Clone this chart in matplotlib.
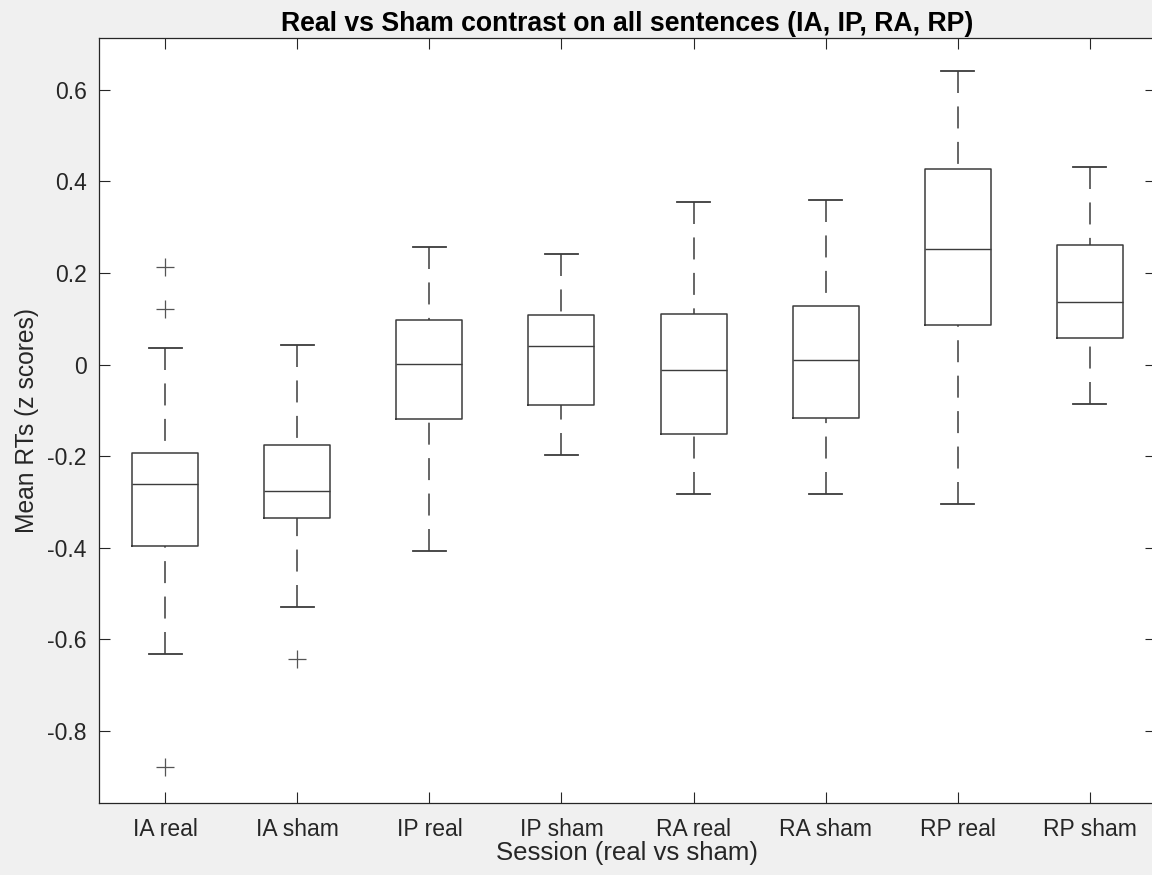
import matplotlib

matplotlib.use("Agg")
import matplotlib.pyplot as plt

plt.rcParams["font.family"] = ["Liberation Sans", "DejaVu Sans"]

labels = ["IA real", "IA sham", "IP real", "IP sham",
          "RA real", "RA sham", "RP real", "RP sham"]
medians = [-0.260, -0.276, 0.002, 0.041, -0.012, 0.010, 0.253, 0.137]
q1 = [-0.395, -0.334, -0.118, -0.088, -0.152, -0.116, 0.087, 0.059]
q3 = [-0.193, -0.175, 0.097, 0.108, 0.111, 0.129, 0.427, 0.261]
whisk_lo = [-0.632, -0.529, -0.406, -0.198, -0.282, -0.282, -0.305, -0.087]
whisk_hi = [0.037, 0.043, 0.257, 0.242, 0.355, 0.360, 0.640, 0.432]
outliers = [[0.212, 0.121, -0.878], [-0.642], [], [], [], [], [], []]

line_col = "#3c3c3c"
axis_col = "#262626"

stats = []
for i, name in enumerate(labels):
    stats.append({
        "label": name,
        "med": medians[i],
        "q1": q1[i],
        "q3": q3[i],
        "whislo": whisk_lo[i],
        "whishi": whisk_hi[i],
        "fliers": outliers[i],
    })

fig = plt.figure(figsize=(11.52, 8.75), dpi=100, facecolor="#f0f0f0")
ax = fig.add_axes([0.0861, 0.0823, 0.9172, 0.8743])
ax.set_facecolor("white")

parts = ax.bxp(
    stats,
    positions=range(1, len(labels) + 1),
    widths=0.5,
    showfliers=True,
    boxprops=dict(color=line_col, linewidth=1.1),
    medianprops=dict(color=line_col, linewidth=1.0),
    whiskerprops=dict(color=line_col, linewidth=1.1, linestyle=(0, (14.4, 8.8))),
    capprops=dict(color=line_col, linewidth=1.3),
    capwidths=0.25,
    flierprops=dict(marker="+", markersize=13, markeredgecolor="#555555",
                    markeredgewidth=0.9, linestyle="none"),
)

# start the dash pattern at the cap end, as MATLAB does
for w in parts["whiskers"]:
    xs, ys = w.get_data()
    w.set_data(list(xs)[::-1], list(ys)[::-1])

ax.set_xlim(0.5, 8.5)
ax.set_ylim(-0.957, 0.713)
ax.set_yticks([-0.8, -0.6, -0.4, -0.2, 0, 0.2, 0.4, 0.6])
ax.set_yticklabels(["-0.8", "-0.6", "-0.4", "-0.2", "0", "0.2", "0.4", "0.6"])
ax.set_xticks(range(1, len(labels) + 1))
ax.set_xticklabels(labels)

ax.tick_params(axis="both", direction="in", length=8, width=0.8,
               color=axis_col, labelcolor=axis_col, labelsize=16.5,
               top=True, right=True)
ax.tick_params(axis="x", pad=11)
ax.tick_params(axis="y", pad=9)
for side in ["left", "bottom", "top", "right"]:
    ax.spines[side].set_color(axis_col)
    ax.spines[side].set_linewidth(0.9)

ax.set_title("Real vs Sham contrast on all sentences (IA, IP, RA, RP)",
             fontsize=19.2, fontweight="bold", color="black", pad=5)
ax.set_xlabel("Session (real vs sham)", fontsize=18.5, color=axis_col, labelpad=0)
ax.set_ylabel("Mean RTs (z scores)", fontsize=17.7, color=axis_col, labelpad=6)

fig.savefig("out.png", dpi=100, facecolor=fig.get_facecolor())
